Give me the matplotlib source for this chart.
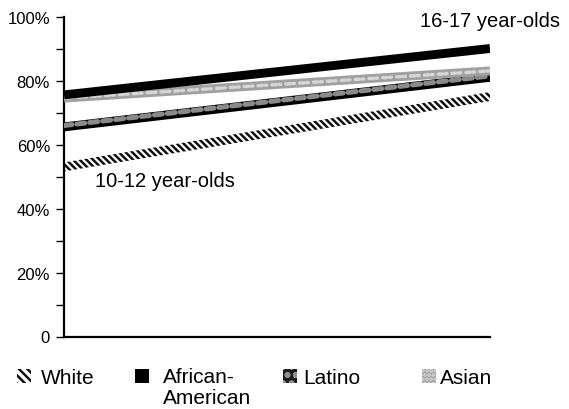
import matplotlib
matplotlib.use("Agg")
import matplotlib.pyplot as plt
import matplotlib.transforms as mtransforms
from matplotlib.patches import Rectangle
import numpy as np

# age groups on the x axis (start / end of each line)
age_groups = ["10-12 year-olds", "16-17 year-olds"]
x_pos = [0, 1]

white = [53, 75]
african_american = [75.5, 90]
latino = [65.5, 81]
asian = [74.5, 83]

legend_labels = ["White", "African-\nAmerican", "Latino", "Asian"]
y_ticks = [0, 20, 40, 60, 80, 100]
y_tick_labels = ["0", "20%", "40%", "60%", "80%", "100%"]

plt.rcParams['font.family'] = ['Liberation Sans', 'DejaVu Sans']
plt.rcParams['hatch.linewidth'] = 1.8

fig = plt.figure(figsize=(5.69, 4.10), dpi=100)
ax = fig.add_axes([64 / 569, 72.5 / 410, 426 / 569, 320 / 410])

LW = 6.4
half = 1.4  # half thickness of the hatched band, in % units

# White - hatched band
x_arr = np.array(x_pos, dtype=float)
w_arr = np.array(white, dtype=float)
ax.fill_between(x_arr, w_arr - half, w_arr + half, facecolor='white',
                edgecolor='#111111', hatch='\\\\\\\\\\', linewidth=0, zorder=2)

# Latino - black with grey blobs on top
ax.plot(x_pos, latino, color='black', lw=LW, solid_capstyle='butt', zorder=3)
up = mtransforms.ScaledTranslation(0, 1.0 / 72, fig.dpi_scale_trans)
ax.plot(x_pos, latino, color='#8a8a8a', lw=3.6, dashes=(1.6, 1.0),
        solid_capstyle='butt', dash_capstyle='round',
        transform=ax.transData + up, zorder=4)

# Asian - speckled grey
ax.plot(x_pos, asian, color='#a0a0a0', lw=LW, solid_capstyle='butt', zorder=5)
ax.plot(x_pos, asian, color='#d6d6d6', lw=2.5, dashes=(1.2, 0.8, 0.5, 1.5),
        dash_capstyle='round', zorder=6)

# African-American - solid black
ax.plot(x_pos, african_american, color='black', lw=LW, solid_capstyle='butt', zorder=7)

ax.set_xlim(0, 1)
ax.set_ylim(0, 100)
ax.spines['top'].set_visible(False)
ax.spines['right'].set_visible(False)
ax.spines['left'].set_linewidth(1.6)
ax.spines['bottom'].set_linewidth(1.6)
ax.set_xticks([])
ax.set_yticks(y_ticks)
ax.set_yticks([10, 30, 50, 70, 90], minor=True)
ax.set_yticklabels(y_tick_labels, fontsize=12)
ax.tick_params(axis='y', which='both', direction='out', length=6, width=1.0, pad=4)

# age labels
ax.text(0.073, 47, age_groups[0], fontsize=14.5, ha='left', va='baseline')
ax.text(0.836, 97, age_groups[1], fontsize=14.5, ha='left', va='baseline', clip_on=False)

# legend built by hand along the bottom
sw_x = [17, 135, 283, 422]
txt_x = [41, 163, 303, 440]
sq = 14
base_y = 384
styles = [
    dict(facecolor='white', edgecolor='#111111', hatch='\\\\\\\\', linewidth=0),
    dict(facecolor='black', edgecolor='black', linewidth=0),
    dict(facecolor='#1a1a1a', edgecolor='#8f8f8f', hatch='oo', linewidth=0),
    dict(facecolor='#a0a0a0', edgecolor='#e0e0e0', hatch='....', linewidth=0),
]
for sx, tx, lab, st in zip(sw_x, txt_x, legend_labels, styles):
    fig.add_artist(Rectangle((sx / 569, (410 - base_y) / 410), sq / 569, sq / 410,
                             transform=fig.transFigure, **st))
    # baseline of the last line of the label
    n_extra = lab.count("\n")
    fig.text(tx / 569, (410 - base_y - 20 * n_extra) / 410, lab, fontsize=15,
             ha='left', va='baseline', linespacing=1.1)

fig.savefig("out.png", dpi=100)
